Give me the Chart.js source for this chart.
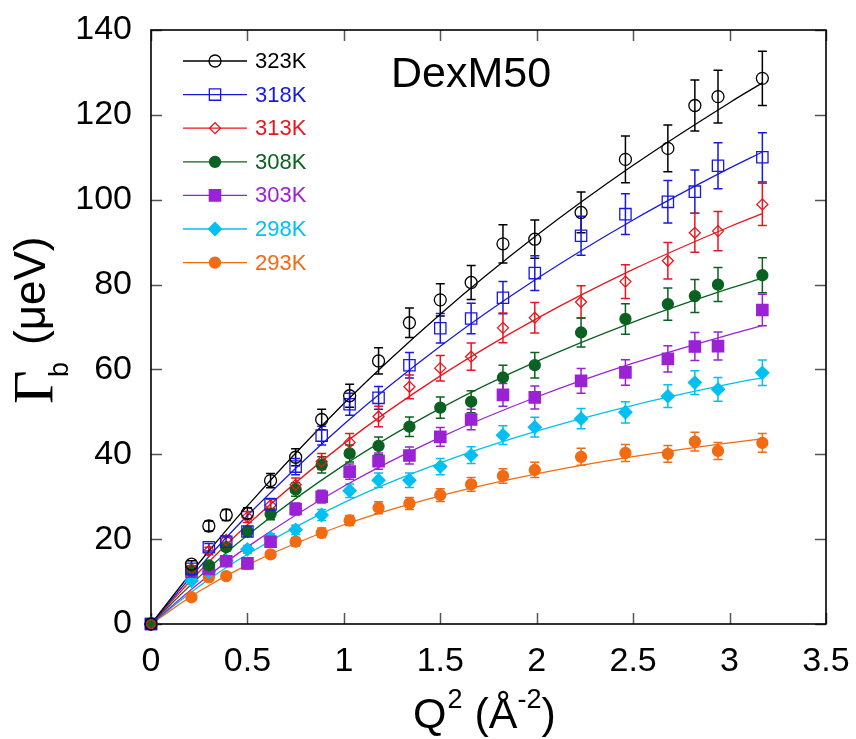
<!DOCTYPE html>
<html>
<head>
<meta charset="utf-8">
<script src="https://cdn.jsdelivr.net/npm/chart.js@4/dist/chart.umd.min.js"></script>
<style>
  html, body { margin: 0; padding: 0; background: #fff; }
  #wrap { width: 856px; height: 739px; }
</style>
</head>
<body>
<div id="wrap"><canvas id="gamma-chart" width="856" height="739"></canvas></div>
<script>
// Q^2 (A^-2) where the widths were measured
const q2 = [0, 0.21, 0.30, 0.39, 0.50, 0.62, 0.75, 0.885, 1.03, 1.18, 1.34, 1.50, 1.66, 1.825, 1.99, 2.23, 2.46, 2.68, 2.82, 2.94, 3.17];

const temps = ["323K", "318K", "313K", "308K", "303K", "298K", "293K"];

// Gamma_b (ueV) per temperature
const g323 = [0, 14.1, 23.1, 25.7, 26.1, 33.8, 39.3, 48.2, 53.8, 62.0, 71.0, 76.4, 80.5, 89.6, 90.7, 97.0, 109.5, 112.1, 122.2, 124.3, 128.6];
const g318 = [0, 13.0, 18.1, 19.4, 21.8, 28.2, 37.1, 44.4, 51.8, 53.3, 61.0, 69.7, 72.0, 76.9, 82.7, 91.5, 96.6, 99.5, 101.9, 108.0, 110.0];
const g313 = [0, 13.0, 17.2, 19.8, 25.2, 28.0, 32.8, 38.3, 42.8, 48.9, 55.9, 60.3, 63.0, 69.8, 72.2, 75.9, 80.7, 85.6, 92.2, 92.6, 98.9];
const g308 = [0, 12.6, 13.8, 18.1, 21.8, 25.9, 31.7, 37.5, 40.2, 42.0, 46.5, 51.0, 52.4, 58.1, 61.0, 68.7, 71.9, 75.4, 77.3, 80.0, 82.2];
const g303 = [0, 12.3, 13.0, 14.8, 14.3, 19.4, 27.1, 30.0, 35.9, 38.4, 39.7, 44.1, 48.2, 54.0, 53.4, 57.3, 59.3, 62.5, 65.4, 65.5, 74.0];
const g298 = [0, 10.2, 12.3, 14.9, 17.6, 20.3, 22.2, 25.7, 31.4, 33.9, 33.9, 37.1, 39.8, 44.5, 46.4, 48.4, 49.9, 53.7, 56.9, 55.3, 59.2];
const g293 = [0, 6.3, 11.0, 11.3, 14.1, 16.4, 19.4, 21.5, 24.4, 27.4, 28.4, 30.4, 32.9, 34.9, 36.3, 39.4, 40.3, 40.1, 43.0, 40.8, 42.7];

// error bars (+/-)
const e323 = [0, 0.8, 1.2, 1.3, 1.3, 1.7, 2.0, 2.4, 2.7, 3.1, 3.5, 3.8, 4.0, 4.5, 4.5, 4.8, 5.5, 5.5, 6.0, 6.2, 6.4];
const e318 = [0, 0.7, 0.9, 1.0, 1.1, 1.4, 1.9, 2.2, 2.6, 2.7, 3.0, 3.5, 3.6, 3.8, 4.1, 4.6, 4.8, 5.0, 5.1, 5.4, 5.8];
const e313 = [0, 0.7, 0.9, 1.0, 1.3, 1.4, 1.6, 1.9, 2.1, 2.4, 2.8, 3.0, 3.2, 3.5, 3.6, 3.8, 4.0, 4.3, 4.6, 4.6, 5.0];
const e308 = [0, 0.6, 0.7, 0.9, 1.1, 1.3, 1.6, 1.9, 2.0, 2.1, 2.3, 2.5, 2.6, 2.9, 3.0, 3.4, 3.6, 3.8, 3.9, 4.0, 4.1];
const e303 = [0, 0.6, 0.7, 0.7, 0.7, 1.0, 1.4, 1.5, 1.8, 1.9, 2.0, 2.2, 2.4, 2.7, 2.7, 2.9, 3.0, 3.1, 3.3, 3.3, 3.7];
const e298 = [0, 0.5, 0.6, 0.7, 0.9, 1.0, 1.1, 1.3, 1.6, 1.7, 1.7, 1.9, 2.0, 2.2, 2.3, 2.4, 2.5, 2.7, 2.8, 2.8, 3.0];
const e293 = [0, 0.4, 0.6, 0.6, 0.7, 0.8, 1.0, 1.1, 1.2, 1.4, 1.4, 1.5, 1.6, 1.7, 1.8, 2.0, 2.0, 2.0, 2.2, 2.0, 2.2];

// fitted curves
const fitQ2 = [0, 0.25, 0.5, 1, 1.5, 2, 2.5, 3, 3.17];
const fit323 = [0, 14.44, 27.84, 51.95, 73.02, 91.60, 108.11, 122.87, 127.54];
const fit318 = [0, 13.35, 25.56, 47.09, 65.48, 81.37, 95.23, 107.43, 111.25];
const fit313 = [0, 12.30, 23.37, 42.51, 58.47, 71.98, 83.57, 93.63, 96.74];
const fit308 = [0, 11.11, 20.92, 37.44, 50.82, 61.88, 71.17, 79.09, 81.52];
const fit303 = [0, 9.67, 18.18, 32.47, 44.00, 53.50, 61.46, 68.23, 70.30];
const fit298 = [0, 8.88, 16.43, 28.61, 38.00, 45.47, 51.54, 56.57, 58.09];
const fit293 = [0, 7.71, 13.94, 23.39, 30.22, 35.38, 39.43, 42.68, 43.65];

const xTicks = [0, 0.5, 1, 1.5, 2, 2.5, 3, 3.5];
const xTickLabels = ["0", "0.5", "1", "1.5", "2", "2.5", "3", "3.5"];
const yTicks = [0, 20, 40, 60, 80, 100, 120, 140];

const values = [g323, g318, g313, g308, g303, g298, g293];
const errors = [e323, e318, e313, e308, e303, e298, e293];
const fits = [fit323, fit318, fit313, fit308, fit303, fit298, fit293];

const colors = ["#000000", "#1818e0", "#e8161e", "#0b6121", "#9b22d4", "#00c0f2", "#f26a12"];
const markers = ["circle", "rect", "rectRot", "circle", "rect", "rectRot", "circle"];
const filled = [false, false, false, true, true, true, true];
const radii = [6, 8, 5.5, 5.5, 8, 6.5, 5.5];

const SANS = "'Liberation Sans', Arial, Helvetica, sans-serif";
const SERIF = "'Liberation Serif', 'Times New Roman', serif";

let datasets = [];
temps.forEach((t, i) => {
  datasets.push({
    label: t + " fit",
    data: fitQ2.map((x, j) => ({ x: x, y: fits[i][j] })),
    showLine: true,
    borderColor: colors[i],
    borderWidth: 1.3,
    pointRadius: 0,
    cubicInterpolationMode: "monotone",
    fill: false,
    order: 2,
  });
  datasets.push({
    label: t,
    data: q2.map((x, j) => ({ x: x, y: values[i][j] })),
    showLine: false,
    pointStyle: markers[i],
    pointRadius: radii[i],
    pointBorderWidth: 1.3,
    borderColor: colors[i],
    backgroundColor: filled[i] ? colors[i] : "rgba(0,0,0,0)",
    pointBackgroundColor: filled[i] ? colors[i] : "rgba(0,0,0,0)",
    clip: false,
    order: 1,
  });
});

// frame, inner ticks and error bars
const framePlugin = {
  id: "frame",
  beforeDatasetsDraw(chart) {
    const { ctx, chartArea: a, scales } = chart;
    const xs = scales.x, ys = scales.y;
    ctx.save();
    ctx.strokeStyle = "#555";
    ctx.lineWidth = 1.5;
    ctx.beginPath();
    xTicks.forEach((v) => {
      const px = Math.round(xs.getPixelForValue(v)) + 0.5;
      ctx.moveTo(px, a.bottom); ctx.lineTo(px, a.bottom - 11);
      ctx.moveTo(px, a.top); ctx.lineTo(px, a.top + 11);
    });
    yTicks.forEach((v) => {
      const py = Math.round(ys.getPixelForValue(v)) + 0.5;
      ctx.moveTo(a.left, py); ctx.lineTo(a.left + 11, py);
      ctx.moveTo(a.right, py); ctx.lineTo(a.right - 11, py);
    });
    ctx.stroke();
    ctx.strokeStyle = "#000";
    ctx.lineWidth = 1.6;
    ctx.strokeRect(a.left, a.top, a.right - a.left, a.bottom - a.top);

    // error bars
    ctx.lineWidth = 1.5;
    values.forEach((vals, i) => {
      ctx.strokeStyle = colors[i];
      ctx.beginPath();
      vals.forEach((v, j) => {
        const e = errors[i][j];
        if (!e) return;
        const px = xs.getPixelForValue(q2[j]);
        const top = ys.getPixelForValue(v + e);
        const bot = ys.getPixelForValue(v - e);
        ctx.moveTo(px, top); ctx.lineTo(px, bot);
        ctx.moveTo(px - 4.5, top); ctx.lineTo(px + 4.5, top);
        ctx.moveTo(px - 4.5, bot); ctx.lineTo(px + 4.5, bot);
      });
      ctx.stroke();
    });
    ctx.restore();
  },
  afterDraw(chart) {
    const ctx = chart.ctx;
    ctx.save();
    ctx.fillStyle = "#000";

    // title
    ctx.font = "43px " + SANS;
    ctx.textAlign = "left";
    ctx.textBaseline = "alphabetic";
    ctx.fillText("DexM50", 391, 87);

    // legend
    temps.forEach((t, i) => {
      const y = 61 + i * 33.6;
      ctx.strokeStyle = colors[i];
      ctx.lineWidth = 1.3;
      ctx.beginPath();
      ctx.moveTo(183, y); ctx.lineTo(247, y);
      ctx.stroke();
      ctx.fillStyle = filled[i] ? colors[i] : "rgba(0,0,0,0)";
      Chart.helpers.drawPoint(ctx, { pointStyle: markers[i], radius: radii[i], borderWidth: 1.3, rotation: 0 }, 215, y);
      ctx.fillStyle = colors[i];
      ctx.font = "22px " + SANS;
      ctx.textBaseline = "middle";
      ctx.fillText(t, 255, y + 1);
    });

    // y axis title
    ctx.fillStyle = "#000";
    ctx.textBaseline = "alphabetic";
    ctx.save();
    ctx.translate(34, 322);
    ctx.rotate(-Math.PI / 2);
    ctx.font = "58px " + SERIF;
    ctx.fillText("\u0393", -82, 19);
    ctx.font = "27px " + SANS;
    ctx.fillText("b", -55, 34);
    ctx.font = "44px " + SANS;
    ctx.fillText("(\u03BCeV)", -23, 11);
    ctx.restore();

    // x axis title
    let x = 413;
    const base = 728;
    ctx.font = "43px " + SANS;
    ctx.fillText("Q", x, base); x += ctx.measureText("Q").width + 1;
    ctx.font = "27px " + SANS;
    ctx.fillText("2", x, base - 20); x += ctx.measureText("2").width;
    ctx.font = "43px " + SANS;
    ctx.fillText(" (\u00C5", x, base); x += ctx.measureText(" (\u00C5").width;
    ctx.font = "27px " + SANS;
    ctx.fillText("-2", x, base - 20); x += ctx.measureText("-2").width;
    ctx.font = "43px " + SANS;
    ctx.fillText(")", x, base);
    ctx.restore();
  },
};

// keep the plot box where the reference has it (labels may overhang)
function fixBox(s, w, h) {
  if (w) s.width = w;
  if (h) s.height = h;
  s.paddingTop = 0;
  s.paddingBottom = 0;
  s.paddingLeft = 0;
  s.paddingRight = 0;
}

let ctx = document.getElementById("gamma-chart").getContext("2d");
new Chart(ctx, {
  type: "scatter",
  data: { datasets: datasets },
  options: {
    responsive: false,
    animation: false,
    devicePixelRatio: 1,
    layout: { padding: { left: 0, right: 30, top: 30, bottom: 0 } },
    plugins: {
      legend: { display: false },
      tooltip: { enabled: false },
    },
    scales: {
      x: {
        type: "linear",
        min: 0,
        max: 3.5,
        afterFit: (s) => fixBox(s, 0, 115),
        afterBuildTicks: (s) => { s.ticks = xTicks.map((v) => ({ value: v })); },
        grid: { display: false, drawTicks: false },
        border: { display: false },
        ticks: {
          color: "#000",
          padding: 17,
          font: { size: 34, family: SANS },
          callback: (v, i) => xTickLabels[i],
        },
      },
      y: {
        type: "linear",
        min: 0,
        max: 140,
        afterFit: (s) => fixBox(s, 151, 0),
        afterBuildTicks: (s) => { s.ticks = yTicks.map((v) => ({ value: v })); },
        grid: { display: false, drawTicks: false },
        border: { display: false },
        ticks: { color: "#000", padding: 19, font: { size: 34, family: SANS } },
      },
    },
  },
  plugins: [framePlugin],
});
</script>
</body>
</html>
